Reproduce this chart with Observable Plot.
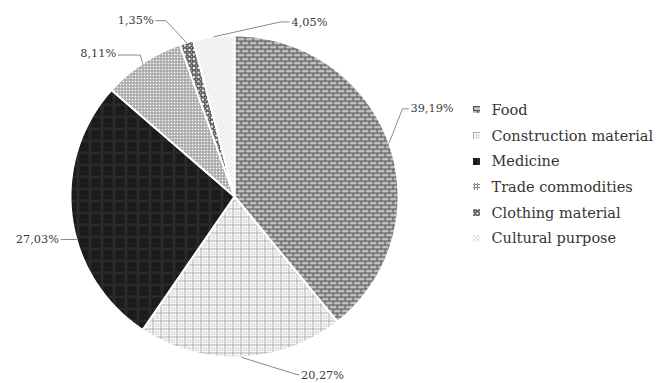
<!DOCTYPE html>
<html>
<head>
<meta charset="utf-8">
<script src="https://cdn.jsdelivr.net/npm/d3@7"></script>
<script src="https://cdn.jsdelivr.net/npm/@observablehq/plot@0.6"></script>
<style>
  html, body { margin: 0; padding: 0; background: #fff; }
  #chart { position: relative; width: 666px; height: 383px; overflow: hidden; }
  #legend { position: absolute; left: 473px; top: 97px; font-family: "DejaVu Serif", serif; font-size: 14.5px; color: #353535; }
  #legend .item { height: 25.7px; display: flex; align-items: center; white-space: nowrap; }
  #legend .item svg { margin-right: 11.5px; flex: none; }
</style>
</head>
<body>
<!-- Fill patterns for the slices and legend swatches -->
<svg width="0" height="0" style="position:absolute">
  <defs>
    <pattern id="pat-food" width="8" height="8" patternUnits="userSpaceOnUse">
      <rect width="8" height="8" fill="#c4c4c4"/>
      <rect x="0" y="0" width="8" height="1.2" fill="#585858"/>
      <rect x="0" y="4" width="8" height="1.2" fill="#585858"/>
      <rect x="0" y="0" width="1.2" height="4" fill="#585858"/>
      <rect x="4" y="4" width="1.2" height="4" fill="#585858"/>
    </pattern>
    <pattern id="pat-construction" width="8" height="8" patternUnits="userSpaceOnUse">
      <rect width="8" height="8" fill="#ffffff"/>
      <rect x="0" y="0" width="8" height="1" fill="#a8a8a8"/>
      <rect x="0" y="0" width="1" height="8" fill="#a8a8a8"/>
      <rect x="3" y="3" width="3" height="3" fill="none" stroke="#c2c2c2" stroke-width="0.8"/>
    </pattern>
    <pattern id="pat-medicine" width="12" height="12" patternUnits="userSpaceOnUse">
      <rect width="12" height="12" fill="#1a1a1a"/>
      <rect x="4" y="0" width="3" height="12" fill="#2a2a2a"/>
      <rect x="0" y="7" width="12" height="2.5" fill="#2a2a2a"/>
      <rect x="1" y="2" width="1" height="1" fill="#333333"/>
      <rect x="9" y="3" width="1" height="1" fill="#333333"/>
    </pattern>
    <pattern id="pat-trade" width="6" height="6" patternUnits="userSpaceOnUse">
      <rect width="6" height="6" fill="#ffffff"/>
      <circle cx="0" cy="0" r="1.7" fill="none" stroke="#7c7c7c" stroke-width="1"/>
      <circle cx="6" cy="0" r="1.7" fill="none" stroke="#7c7c7c" stroke-width="1"/>
      <circle cx="0" cy="6" r="1.7" fill="none" stroke="#7c7c7c" stroke-width="1"/>
      <circle cx="6" cy="6" r="1.7" fill="none" stroke="#7c7c7c" stroke-width="1"/>
      <circle cx="3" cy="3" r="1.7" fill="none" stroke="#7c7c7c" stroke-width="1"/>
    </pattern>
    <pattern id="pat-clothing" width="4.5" height="4.5" patternUnits="userSpaceOnUse">
      <rect width="4.5" height="4.5" fill="#ffffff"/>
      <circle cx="2.25" cy="2.25" r="1.5" fill="none" stroke="#111111" stroke-width="1.2"/>
    </pattern>
    <pattern id="pat-cultural" width="4" height="4" patternUnits="userSpaceOnUse">
      <rect width="4" height="4" fill="#ffffff"/>
      <circle cx="1" cy="1" r="0.7" fill="#b4b4b4"/>
      <circle cx="3" cy="3" r="0.7" fill="#b4b4b4"/>
    </pattern>
  </defs>
</svg>

<div id="chart"><div id="legend"></div></div>

<script>
// Uses of forest products (share of mentions, %)
const categories = ["Food", "Construction material", "Medicine", "Trade commodities", "Clothing material", "Cultural purpose"];
const shares = [39.19, 20.27, 27.03, 8.11, 1.35, 4.05];

// Pattern fill for each category
const patterns = ["pat-food", "pat-construction", "pat-medicine", "pat-trade", "pat-clothing", "pat-cultural"];

// Label placement: leader start on the rim (deg, null = slice middle),
// elbow angle (deg) and radius, then a short horizontal tick (px) toward the text
const labelLayout = [
  {lead: null,  at: 62,    r: 1.16, tick: 6,   dy: 0},
  {lead: null,  at: 161,   r: 1.17, tick: 2,   dy: 1},
  {lead: 254.5, at: 255.7, r: 1.08, tick: -2,  dy: 0},
  {lead: null,  at: 326.8, r: 1.05, tick: -22, dy: -2},
  {lead: null,  at: 339,   r: 1.17, tick: -10, dy: 0},
  {lead: null,  at: 14.5,  r: 1.12, tick: 9,   dy: 0}
];

// Pie geometry in plane units (unit circle, angle 0 at twelve o'clock, clockwise)
const cx = 234, cy = 196, rx = 164, ry = 161;
const rad = (deg) => deg * Math.PI / 180;
const arcs = d3.pie().sort(null).value(d => d)(shares);
const slices = arcs.map((a, i) => ({
  i, category: categories[i], share: shares[i],
  a0: a.startAngle, a1: a.endAngle, mid: (a.startAngle + a.endAngle) / 2
}));

function outlineOf(s) {
  const n = Math.max(2, Math.ceil((s.a1 - s.a0) / (Math.PI / 360)));
  const pts = [{x: 0, y: 0}];
  for (let k = 0; k <= n; k++) {
    const t = s.a0 + (s.a1 - s.a0) * k / n;
    pts.push({x: Math.sin(t), y: Math.cos(t)});
  }
  return pts;
}

const fmt = (v) => v.toFixed(2).replace(".", ",") + "%";

const leaders = [];
const labels = [];
slices.forEach((s, i) => {
  const L = labelLayout[i];
  const a = L.lead == null ? s.mid : rad(L.lead);
  const e = rad(L.at);
  const ex = L.r * Math.sin(e), ey = L.r * Math.cos(e);
  const tx = ex + L.tick / rx;
  leaders.push({category: s.category, x: Math.sin(a), y: Math.cos(a)});
  leaders.push({category: s.category, x: ex, y: ey});
  leaders.push({category: s.category, x: tx, y: ey});
  labels.push({x: tx, y: ey, text: fmt(s.share), side: L.tick >= 0 ? "right" : "left", dy: L.dy});
});

const textStyle = {fontFamily: "DejaVu Serif, serif", fontSize: 11.3, fill: "#3a3a3a"};

const plot = Plot.plot({
  width: 666,
  height: 383,
  margin: 0,
  axis: null,
  x: {domain: [-1, 1], range: [cx - rx, cx + rx]},
  y: {domain: [-1, 1], range: [cy + ry, cy - ry]},
  marks: [
    ...slices.map(s => Plot.line(outlineOf(s), {
      x: "x", y: "y", curve: "linear-closed",
      fill: `url(#${patterns[s.i]})`, stroke: "#ffffff", strokeWidth: 2
    })),
    Plot.line(leaders, {x: "x", y: "y", z: "category", stroke: "#8a8a8a", strokeWidth: 1}),
    ...labels.map(l => Plot.text([l], {
      x: "x", y: "y", text: "text", dy: l.dy,
      textAnchor: l.side === "right" ? "start" : "end",
      dx: l.side === "right" ? 2 : -2,
      ...textStyle
    }))
  ]
});
document.getElementById("chart").prepend(plot);

// Legend to the right of the pie
const legend = d3.select("#legend");
categories.forEach((c, i) => {
  const item = legend.append("div").attr("class", "item");
  const sw = item.append("svg").attr("width", 7).attr("height", 7);
  sw.append("rect").attr("width", 7).attr("height", 7).attr("fill", `url(#${patterns[i]})`);
  item.append("span").text(c);
});
</script>
</body>
</html>
